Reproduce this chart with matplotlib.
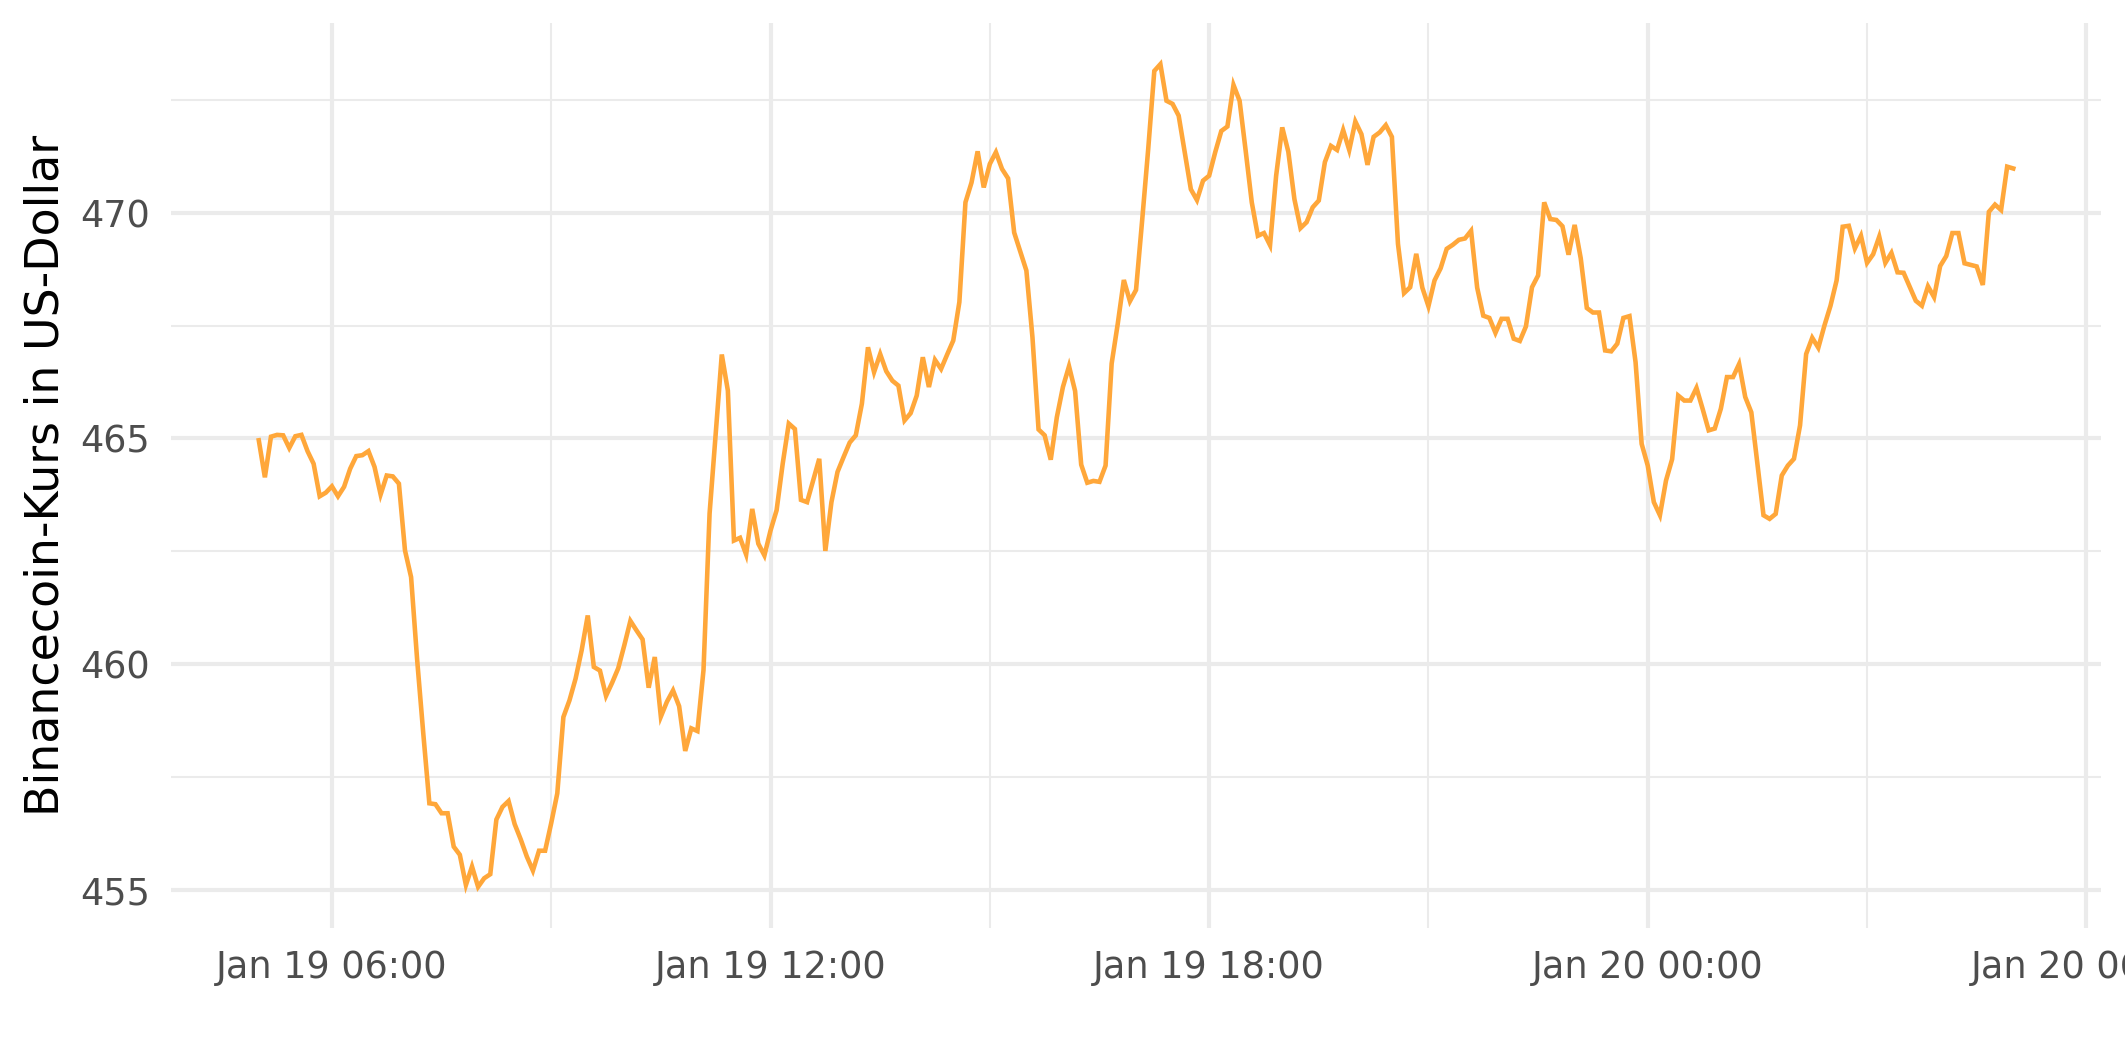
import matplotlib
matplotlib.use("Agg")
import matplotlib.pyplot as plt
import matplotlib.dates as mdates
from matplotlib.ticker import MultipleLocator
import pandas as pd

# BNB price, 5-minute steps starting Jan 19 05:00 (minutes after start)
start = pd.Timestamp("2022-01-19 05:00")
minutes = [
    0, 5, 10, 15, 20, 25, 30, 35, 40, 45, 50, 55, 60, 65, 70, 75, 80, 85, 90, 95,
    100, 105, 110, 115, 120, 125, 130, 135, 140, 145, 150, 155, 160, 165, 170, 175,
    180, 185, 190, 195, 200, 205, 210, 215, 220, 225, 230, 235, 240, 245, 250, 255,
    260, 265, 270, 275, 280, 285, 290, 295, 300, 305, 310, 315, 320, 325, 330, 335,
    340, 345, 350, 355, 360, 365, 370, 375, 380, 385, 390, 395, 400, 405, 410, 415,
    420, 425, 430, 435, 440, 445, 450, 460, 465, 470, 475, 480, 485, 490, 495, 500,
    505, 510, 515, 520, 525, 530, 535, 540, 545, 550, 555, 560, 565, 570, 575, 580,
    585, 590, 595, 600, 605, 610, 615, 620, 630, 635, 640, 645, 650, 655, 660, 665,
    670, 675, 680, 685, 690, 695, 700, 705, 710, 715, 720, 725, 730, 735, 740, 745,
    750, 755, 760, 765, 770, 775, 780, 785, 790, 795, 800, 805, 810, 815, 820, 825,
    830, 835, 840, 845, 850, 855, 860, 865, 870, 875, 880, 885, 890, 895, 900, 905,
    910, 915, 920, 925, 930, 935, 940, 945, 950, 955, 960, 965, 970, 975, 980, 985,
    990, 995, 1000, 1005, 1010, 1015, 1020, 1025, 1030, 1035, 1040, 1045, 1050, 1055,
    1060, 1065, 1070, 1075, 1080, 1085, 1090, 1095, 1100, 1105, 1110, 1115, 1120,
    1125, 1130, 1135, 1140, 1145, 1150, 1155, 1160, 1165, 1170, 1175, 1180, 1185,
    1190, 1195, 1200, 1205, 1210, 1215, 1220, 1225, 1230, 1235, 1240, 1245, 1250,
    1255, 1260, 1265, 1270, 1275, 1280, 1285, 1290, 1295, 1300, 1305, 1310, 1315,
    1320, 1325, 1330, 1335, 1340, 1345, 1350, 1355, 1360, 1365, 1370, 1375, 1380,
    1385, 1390, 1395, 1400, 1410, 1415, 1420, 1425, 1430, 1435, 1440,
]
prices = [
    464.96, 464.14, 465.04, 465.08, 465.07, 464.79, 465.05, 465.08, 464.72, 464.44,
    463.72, 463.80, 463.94, 463.72, 463.93, 464.33, 464.61, 464.63, 464.72, 464.37,
    463.76, 464.18, 464.16, 464.00, 462.52, 461.93, 460.09, 458.47, 456.92, 456.90,
    456.70, 456.70, 455.96, 455.78, 455.11, 455.52, 455.07, 455.26, 455.35, 456.56,
    456.84, 456.97, 456.46, 456.12, 455.74, 455.43, 455.87, 455.87, 456.48, 457.14,
    458.83, 459.20, 459.68, 460.31, 461.08, 459.94, 459.86, 459.30, 459.59, 459.91,
    460.42, 460.96, 460.75, 460.55, 459.48, 460.16, 458.84, 459.17, 459.42, 459.07,
    458.08, 458.58, 458.52, 459.87, 463.34, 465.10, 466.86, 466.06, 462.74, 462.80,
    462.43, 463.44, 462.67, 462.41, 462.96, 463.41, 464.44, 465.33, 465.21, 463.64,
    463.59, 464.55, 462.51, 463.59, 464.26, 464.59, 464.91, 465.07, 465.77, 467.02,
    466.47, 466.87, 466.49, 466.28, 466.17, 465.40, 465.56, 465.95, 466.80, 466.14,
    466.74, 466.54, 466.86, 467.17, 468.02, 470.23, 470.67, 471.36, 470.56, 471.08,
    471.34, 470.97, 470.76, 469.56, 468.72, 467.24, 465.20, 465.07, 464.53, 465.47,
    466.14, 466.60, 466.05, 464.42, 464.02, 464.06, 464.04, 464.40, 466.66, 467.54,
    468.51, 468.04, 468.29, 469.82, 471.41, 473.14, 473.29, 472.48, 472.41, 472.15,
    471.34, 470.52, 470.28, 470.71, 470.82, 471.34, 471.81, 471.91, 472.83, 472.48,
    471.37, 470.23, 469.49, 469.55, 469.28, 470.82, 471.89, 471.35, 470.30, 469.66,
    469.79, 470.12, 470.27, 471.12, 471.48, 471.39, 471.83, 471.39, 472.02, 471.74,
    471.06, 471.68, 471.78, 471.94, 471.68, 469.31, 468.22, 468.35, 469.09, 468.34,
    467.93, 468.50, 468.77, 469.20, 469.29, 469.40, 469.43, 469.60, 468.34, 467.72,
    467.67, 467.34, 467.65, 467.65, 467.21, 467.16, 467.48, 468.35, 468.61, 470.23,
    469.86, 469.84, 469.70, 469.07, 469.73, 468.99, 467.89, 467.79, 467.79, 466.95,
    466.93, 467.10, 467.67, 467.71, 466.69, 464.88, 464.40, 463.59, 463.30, 464.07,
    464.54, 465.95, 465.84, 465.84, 466.12, 465.66, 465.18, 465.22, 465.66, 466.36,
    466.36, 466.65, 465.92, 465.58, 464.44, 463.30, 463.22, 463.33, 464.18, 464.40,
    464.55, 465.29, 466.87, 467.23, 467.01, 467.50, 467.94, 468.50, 469.69, 469.71,
    469.21, 469.49, 468.89, 469.08, 469.47, 468.89, 469.11, 468.68, 468.67, 468.36,
    468.05, 467.94, 468.37, 468.13, 468.82, 469.04, 469.55, 469.55, 468.88, 468.81,
    468.40, 470.02, 470.18, 470.06, 471.02, 470.98,
]

times = start + pd.to_timedelta(minutes, unit="min")

fig = plt.figure(figsize=(2125 / 300, 1062 / 300), dpi=300)
ax = fig.add_axes([0.0805, 0.1262, 0.9082, 0.8521])

ax.plot(times, prices, color="#FFA73A", linewidth=1.1, solid_joinstyle="miter")
ax.margins(x=0.05, y=0.05)

# ggplot theme_minimal look
for side in ax.spines.values():
    side.set_visible(False)
ax.set_axisbelow(True)
ax.xaxis.set_major_locator(mdates.HourLocator(byhour=[0, 6, 12, 18]))
ax.xaxis.set_minor_locator(mdates.HourLocator(byhour=[3, 9, 15, 21]))
ax.xaxis.set_major_formatter(mdates.DateFormatter("%b %d %H:%M"))
ax.yaxis.set_major_locator(MultipleLocator(5))
ax.yaxis.set_minor_locator(MultipleLocator(2.5))
ax.grid(which="major", color="#EBEBEB", linewidth=1.0)
ax.grid(which="minor", color="#EBEBEB", linewidth=0.5)
ax.tick_params(which="both", length=0)
ax.tick_params(axis="both", labelsize=8.8, labelcolor="#4D4D4D", pad=5)

ax.set_ylabel("Binancecoin-Kurs in US-Dollar", fontsize=11, color="black")
ax.yaxis.set_label_coords(-0.053, 0.5)

fig.savefig("out.png", dpi=300)
